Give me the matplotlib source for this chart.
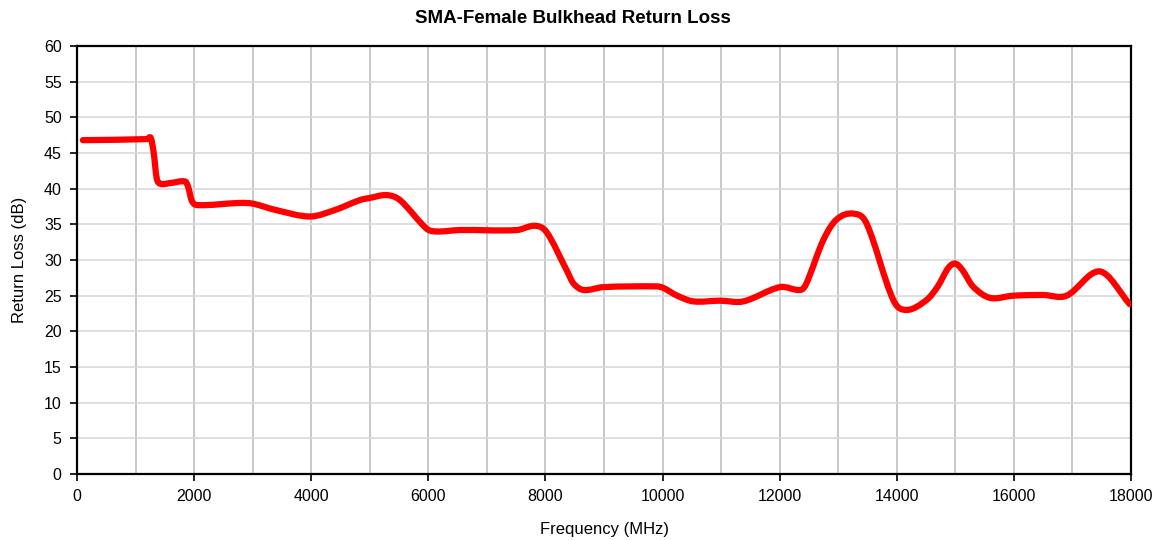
import numpy as np
import matplotlib.pyplot as plt
from matplotlib.path import Path
from matplotlib.patches import PathPatch

# values
freq_mhz = [100, 1200, 1260, 1310, 1360, 1420, 1600, 1850, 1900, 1960, 2050,
            2780, 3000, 3400, 3980, 4400, 4830, 5000, 5290, 5515, 5970, 6140,
            6540, 7510, 7820, 8020, 8360, 8480, 8650, 8990, 9900, 10010,
            10250, 10525, 10980, 11380, 12005, 12350, 12450, 12745, 12975,
            13260, 13485, 13940, 14170, 14510, 14700, 14880, 15000, 15120,
            15300, 15590, 15990, 16500, 16900, 17470, 17980]
return_loss_db = [46.8, 46.95, 47.1, 45.0, 41.5, 40.7, 40.8, 41.0, 40.2,
                  38.3, 37.7, 38.0, 37.9, 37.0, 36.1, 37.0, 38.4, 38.7, 39.1,
                  38.4, 34.4, 34.0, 34.2, 34.2, 34.8, 33.9, 28.6, 26.7, 25.8,
                  26.2, 26.3, 26.1, 25.0, 24.2, 24.3, 24.2, 26.2, 25.8, 26.6,
                  32.8, 35.7, 36.5, 35.1, 24.4, 23.0, 24.4, 26.3, 28.9, 29.5,
                  28.6, 26.3, 24.7, 25.0, 25.1, 25.0, 28.4, 23.8]
x_ticks = list(range(0, 18001, 2000))
y_ticks = list(range(0, 61, 5))

plt.rcParams['font.family'] = ['Liberation Sans', 'DejaVu Sans']

fig = plt.figure(figsize=(11.6, 5.4), dpi=100)
ax = fig.add_axes([0.0664, 0.1222, 0.9086, 0.7926])

ax.set_xlim(0, 18000)
ax.set_ylim(0, 60)
ax.set_xticks(x_ticks)
ax.set_xticks(range(0, 18001, 1000), minor=True)
ax.set_yticks(y_ticks)
ax.tick_params(axis='both', which='major', labelsize=11.5, length=5, width=1.2,
               direction='out', pad=6)
ax.tick_params(axis='x', which='minor', length=0)
ax.xaxis.grid(True, which='both', color='#bfbfbf', linewidth=1.2)
ax.yaxis.grid(True, color='#d9d9d9', linewidth=1.2)
ax.set_axisbelow(True)
for s in ax.spines.values():
    s.set_linewidth(1.6)
    s.set_color('black')

# smooth line through the points: cubic hermite in x, drawn as bezier segments
x = np.array(freq_mhz, dtype=float)
y = np.array(return_loss_db, dtype=float)
n = len(x)
m = np.zeros(n)
m[1:-1] = (y[2:] - y[:-2]) / (x[2:] - x[:-2])
m[0] = (y[1] - y[0]) / (x[1] - x[0])
m[-1] = (y[-1] - y[-2]) / (x[-1] - x[-2])
verts = [(x[0], y[0])]
codes = [Path.MOVETO]
for i in range(n - 1):
    dx = x[i + 1] - x[i]
    verts += [(x[i] + dx / 3, y[i] + m[i] * dx / 3),
              (x[i + 1] - dx / 3, y[i + 1] - m[i + 1] * dx / 3),
              (x[i + 1], y[i + 1])]
    codes += [Path.CURVE4] * 3
patch = PathPatch(Path(verts, codes), facecolor='none', edgecolor='#ff0000',
                  linewidth=4.5, capstyle='round', joinstyle='round', zorder=3)
ax.add_patch(patch)

fig.text(0.494, 0.965, 'SMA-Female Bulkhead Return Loss', ha='center', va='center',
         fontsize=13.5, fontweight='bold')
ax.set_xlabel('Frequency (MHz)', fontsize=12, labelpad=13)
ax.set_ylabel('Return Loss (dB)', fontsize=12, labelpad=12)

fig.savefig('out.png', dpi=100)
